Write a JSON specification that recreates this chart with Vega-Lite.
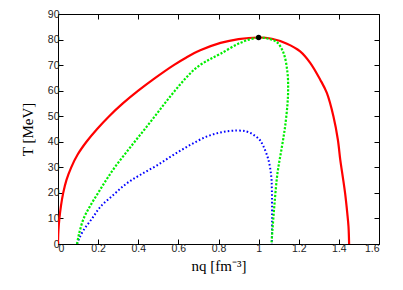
{
  "$schema": "https://vega.github.io/schema/vega-lite/v6.json",
  "width": 321,
  "height": 230,
  "autosize": {"type": "none"},
  "padding": {"left": 58, "top": 14, "right": 24, "bottom": 46},
  "background": "white",
  "config": {
    "view": {"stroke": "black", "strokeWidth": 1},
    "axis": {"grid": false, "domain": false, "tickColor": "black", "tickSize": -5, "labelFont": "Liberation Sans", "labelFontSize": 10.5, "labelColor": "#222", "titleFont": "Liberation Serif", "titleFontSize": 15, "titleFontWeight": "normal", "titleColor": "black"}
  },
  "datasets": {
    "red": [
      {"i":0,"x":0,"T":0},{"i":1,"x":0.002,"T":5},{"i":2,"x":0.007,"T":10},{"i":3,"x":0.015,"T":15},{"i":4,"x":0.026,"T":20},{"i":5,"x":0.042,"T":25},{"i":6,"x":0.066,"T":30},{"i":7,"x":0.098,"T":35},{"i":8,"x":0.142,"T":40},{"i":9,"x":0.195,"T":45},{"i":10,"x":0.255,"T":50},{"i":11,"x":0.323,"T":55},{"i":12,"x":0.4,"T":60},{"i":13,"x":0.485,"T":65},{"i":14,"x":0.577,"T":70},{"i":15,"x":0.64,"T":73},{"i":16,"x":0.709,"T":75.8},{"i":17,"x":0.81,"T":78.7},{"i":18,"x":0.9,"T":80.2},{"i":19,"x":1.0,"T":80.8},{"i":20,"x":1.066,"T":80.3},{"i":21,"x":1.141,"T":78.4},{"i":22,"x":1.207,"T":75.4},{"i":23,"x":1.257,"T":70.9},{"i":24,"x":1.307,"T":64.3},{"i":25,"x":1.34,"T":59.1},{"i":26,"x":1.373,"T":49.9},{"i":27,"x":1.395,"T":40.8},{"i":28,"x":1.407,"T":32.9},{"i":29,"x":1.42,"T":26},{"i":30,"x":1.431,"T":19.9},{"i":31,"x":1.442,"T":12},{"i":32,"x":1.448,"T":6.8},{"i":33,"x":1.451,"T":0}
    ],
    "green": [
      {"i":0,"x":0.095,"T":0},{"i":1,"x":0.105,"T":4},{"i":2,"x":0.128,"T":10},{"i":3,"x":0.161,"T":15},{"i":4,"x":0.2,"T":20},{"i":5,"x":0.24,"T":25},{"i":6,"x":0.283,"T":30},{"i":7,"x":0.332,"T":35},{"i":8,"x":0.382,"T":40},{"i":9,"x":0.433,"T":45},{"i":10,"x":0.483,"T":50},{"i":11,"x":0.532,"T":55},{"i":12,"x":0.583,"T":60},{"i":13,"x":0.638,"T":65},{"i":14,"x":0.69,"T":69},{"i":15,"x":0.75,"T":72},{"i":16,"x":0.809,"T":74.4},{"i":17,"x":0.908,"T":78.7},{"i":18,"x":1.0,"T":80.8},{"i":19,"x":1.05,"T":80.3},{"i":20,"x":1.091,"T":79},{"i":21,"x":1.124,"T":74.8},{"i":22,"x":1.144,"T":66.9},{"i":23,"x":1.147,"T":60},{"i":24,"x":1.144,"T":55},{"i":25,"x":1.132,"T":46},{"i":26,"x":1.116,"T":38},{"i":27,"x":1.094,"T":27.7},{"i":28,"x":1.078,"T":14.6},{"i":29,"x":1.069,"T":5.5},{"i":30,"x":1.064,"T":0}
    ],
    "blue": [
      {"i":0,"x":0.095,"T":0},{"i":1,"x":0.105,"T":2},{"i":2,"x":0.128,"T":5.5},{"i":3,"x":0.17,"T":10},{"i":4,"x":0.212,"T":14.6},{"i":5,"x":0.28,"T":19.5},{"i":6,"x":0.344,"T":23.8},{"i":7,"x":0.411,"T":27.1},{"i":8,"x":0.494,"T":30.8},{"i":9,"x":0.576,"T":34.9},{"i":10,"x":0.66,"T":38.8},{"i":11,"x":0.743,"T":42.1},{"i":12,"x":0.82,"T":43.8},{"i":13,"x":0.892,"T":44.4},{"i":14,"x":0.94,"T":44},{"i":15,"x":0.975,"T":42.7},{"i":16,"x":1.005,"T":40.8},{"i":17,"x":1.024,"T":38.2},{"i":18,"x":1.049,"T":32.9},{"i":19,"x":1.063,"T":26.4},{"i":20,"x":1.066,"T":21.2},{"i":21,"x":1.067,"T":10},{"i":22,"x":1.066,"T":0}
    ],
    "pt": [{"x":1.0,"T":80.8}]
  },
  "resolve": {"axis": {"x": "independent", "y": "independent"}},
  "layer": [
    {
      "data": {"name": "red"},
      "mark": {"type": "line", "color": "#ff0000", "strokeWidth": 2.2, "interpolate": "catmull-rom", "clip": true},
      "encoding": {
        "x": {"field": "x", "type": "quantitative", "scale": {"domain": [0, 1.6], "nice": false}, "axis": {"orient": "bottom", "values": [0,0.2,0.4,0.6,0.8,1,1.2,1.4,1.6], "format": "~g", "title": "nq [fm⁻³]", "labelPadding": 4, "titlePadding": 5}},
        "y": {"field": "T", "type": "quantitative", "scale": {"domain": [0, 90], "nice": false}, "axis": {"orient": "left", "values": [0,10,20,30,40,50,60,70,80,90], "title": "T [MeV]", "labelPadding": 4, "titlePadding": 12}},
        "order": {"field": "i", "type": "quantitative"}
      }
    },
    {
      "data": {"name": "blue"},
      "mark": {"type": "line", "color": "#0000ff", "strokeWidth": 2, "strokeDash": [1.6, 2.2], "interpolate": "catmull-rom", "clip": true},
      "encoding": {
        "x": {"field": "x", "type": "quantitative", "axis": {"orient": "top", "values": [0,0.2,0.4,0.6,0.8,1,1.2,1.4,1.6], "labels": false, "title": null}},
        "y": {"field": "T", "type": "quantitative", "axis": {"orient": "right", "values": [0,10,20,30,40,50,60,70,80,90], "labels": false, "title": null}},
        "order": {"field": "i", "type": "quantitative"}
      }
    },
    {
      "data": {"name": "green"},
      "mark": {"type": "line", "color": "#00ee00", "strokeWidth": 2.2, "strokeDash": [2.2, 1.6], "interpolate": "catmull-rom", "clip": true},
      "encoding": {
        "x": {"field": "x", "type": "quantitative", "axis": null},
        "y": {"field": "T", "type": "quantitative", "axis": null},
        "order": {"field": "i", "type": "quantitative"}
      }
    },
    {
      "data": {"name": "pt"},
      "mark": {"type": "point", "filled": true, "color": "black", "size": 28, "opacity": 1},
      "encoding": {
        "x": {"field": "x", "type": "quantitative", "axis": null},
        "y": {"field": "T", "type": "quantitative", "axis": null}
      }
    }
  ]
}
